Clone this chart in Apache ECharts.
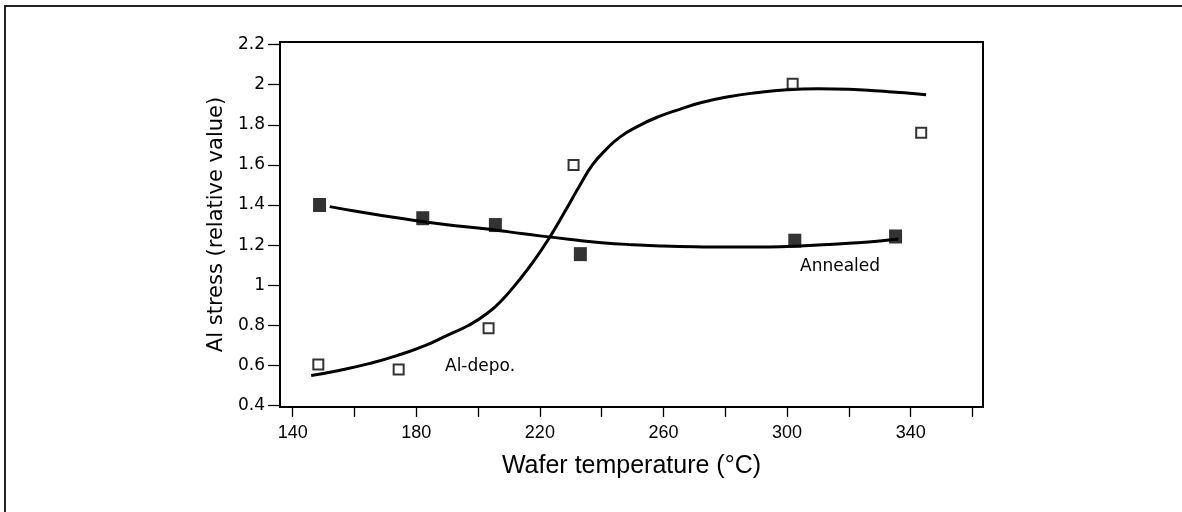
<!DOCTYPE html>
<html>
<head>
<meta charset="utf-8">
<script src="https://cdn.jsdelivr.net/npm/echarts@6/dist/echarts.min.js"></script>
<style>
html,body{margin:0;padding:0;background:#fff;}
#c{width:1182px;height:512px;}
</style>
</head>
<body>
<div id="c"></div>
<script>
// Data
const xTickValues = [140,160,180,200,220,240,260,280,300,320,340,360];
const xLabelValues = [140,180,220,260,300,340];
const yTickValues = [0.4,0.6,0.8,1,1.2,1.4,1.6,1.8,2,2.2];

const annealedPoints = [[148.7,1.40],[182.1,1.334],[205.6,1.30],[233.1,1.155],[302.5,1.222],[335.1,1.243]];
const depoPoints = [[148.3,0.604],[174.3,0.579],[203.4,0.785],[230.9,1.60],[301.8,2.005],[343.4,1.76]];

const annealedFit = [[152,1.392],[160,1.37],[170,1.345],[180,1.322],[190,1.302],[200,1.285],[210,1.266],[220,1.246],[230,1.228],[240,1.212],[250,1.202],[260,1.196],[270,1.192],[280,1.19],[290,1.19],[300,1.193],[310,1.2],[320,1.209],[330,1.22],[336,1.23]];
const depoFit = [[146,0.55],[155,0.575],[165,0.61],[174,0.65],[183,0.70],[190,0.75],[197,0.80],[203,0.86],[208,0.93],[213,1.02],[218,1.12],[223,1.235],[228,1.365],[233,1.50],[237,1.60],[241,1.67],[246,1.74],[252,1.795],[258,1.838],[265,1.876],[272,1.91],[281,1.94],[290,1.96],[300,1.975],[310,1.98],[320,1.977],[330,1.968],[338,1.96],[345,1.95]];

const chart = echarts.init(document.getElementById('c'));
const FONT = 'Liberation Sans, Arial, sans-serif';
const WIDE = 'DejaVu Sans, sans-serif';
chart.setOption({
  animation:false,
  backgroundColor:'#fff',
  graphic:[
    {type:'rect', shape:{x:5,y:6,width:1300,height:600}, style:{fill:'none',stroke:'#222',lineWidth:2}, silent:true, z:0},
    {type:'text', left:445, top:358, style:{text:'Al-depo.', font:'17px '+WIDE, fill:'#000'}},
    {type:'text', left:800, top:258, style:{text:'Annealed', font:'17px '+WIDE, fill:'#000'}}
  ],
  grid:{left:280, right:199, top:42, bottom:105, show:true, borderColor:'#000', borderWidth:2, backgroundColor:'transparent'},
  xAxis:{
    type:'value', min:135.9, max:363.4,
    name:'Wafer temperature (°C)', nameLocation:'middle', nameGap:47,
    nameTextStyle:{fontSize:25, color:'#000', fontFamily:FONT},
    axisLine:{show:true, lineStyle:{color:'#000', width:2}},
    axisTick:{show:true, length:10, inside:false, customValues:xTickValues, lineStyle:{color:'#000', width:1.3}},
    axisLabel:{customValues:xLabelValues, fontSize:18, color:'#000', fontFamily:FONT, margin:17},
    splitLine:{show:false}
  },
  yAxis:{
    type:'value', min:0.3925, max:2.213,
    name:'Al stress (relative value)', nameLocation:'middle', nameGap:52, nameRotate:90,
    nameTextStyle:{fontSize:21, color:'#000', fontFamily:WIDE},
    axisLine:{show:true, lineStyle:{color:'#000', width:2}},
    axisTick:{show:true, length:12, inside:false, customValues:yTickValues, lineStyle:{color:'#000', width:1.3}},
    axisLabel:{customValues:yTickValues, fontSize:17, color:'#000', fontFamily:WIDE, margin:15,
      formatter:function(v){return String(Math.round(v*10)/10);}},
    splitLine:{show:false}
  },
  series:[
    {type:'line', data:annealedFit, smooth:true, showSymbol:false, lineStyle:{color:'#000', width:3}, z:2},
    {type:'line', data:depoFit, smooth:true, showSymbol:false, lineStyle:{color:'#000', width:3}, z:2},
    {type:'scatter', data:annealedPoints, symbol:'rect', symbolSize:[13,14], itemStyle:{color:'#000'}, z:3},
    {type:'scatter', data:depoPoints, symbol:'rect', symbolSize:10, itemStyle:{color:'#fff', borderColor:'#000', borderWidth:2}, z:3}
  ]
});
</script>
</body>
</html>
